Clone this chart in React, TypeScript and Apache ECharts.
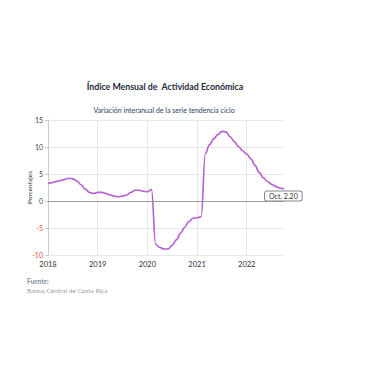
import React, { useEffect, useRef } from "react";
import * as echarts from "echarts";

const years = [2018, 2019, 2020, 2021, 2022];
const values2018 = [3.2, 3.4, 3.6, 3.8, 4.0, 4.2, 4.1, 3.7, 3.0, 2.2, 1.6, 1.4];
const values2019 = [1.6, 1.6, 1.4, 1.1, 0.9, 0.8, 0.9, 1.1, 1.6, 2.0, 2.0, 1.8];
const values2020 = [1.7, 2.1, -8.0, -8.6, -8.9, -8.9, -8.2, -7.2, -6.0, -4.9, -3.8, -3.2];
const values2021 = [-3.1, -2.9, 8.8, 10.4, 11.5, 12.3, 12.9, 12.8, 11.9, 11.0, 10.1, 9.3];
const values2022 = [8.7, 7.8, 6.6, 5.3, 4.3, 3.6, 3.1, 2.7, 2.4, 2.2];
const yTicks = [-10, -5, 0, 5, 10, 15];
const lastLabel = "Oct. 2.20";

const FONT = "Lato, 'Open Sans', sans-serif";

export default function App() {
  const ref = useRef<HTMLDivElement>(null);
  useEffect(() => {
    if (!ref.current) return;
    const chart = echarts.init(ref.current, null, { renderer: "svg" });
    const all = [values2018, values2019, values2020, values2021, values2022];
    const data: number[][] = [];
    all.forEach((arr, yi) => {
      arr.forEach((v, m) => data.push([years[yi] + m / 12, v]));
    });
    const xMax = data[data.length - 1][0];
    chart.setOption({
      animation: false,
      textStyle: { fontFamily: FONT },
      grid: { left: 48, right: 96, top: 120, bottom: 125 },
      graphic: [
        {
          type: "text",
          x: 165,
          y: 86,
          style: {
            text: "Índice Mensual de  Actividad Económica",
            fontSize: 8.8,
            fontWeight: "bold",
            fill: "#1f2a3a",
            fontFamily: FONT,
            align: "center",
            verticalAlign: "middle",
          },
        },
        {
          type: "text",
          x: 164,
          y: 110,
          style: {
            text: "Variación interanual de la serie tendencia ciclo",
            fontSize: 7,
            fill: "#2d3f66",
            fontFamily: FONT,
            align: "center",
            verticalAlign: "middle",
          },
        },
        {
          type: "text",
          x: 27,
          y: 281,
          style: {
            text: "Fuente:",
            fontSize: 6.5,
            fontWeight: "bold",
            fill: "#8090a6",
            fontFamily: FONT,
            verticalAlign: "middle",
          },
        },
        {
          type: "text",
          x: 27,
          y: 290,
          style: {
            text: "Banco Central de Costa Rica",
            fontSize: 6.5,
            fill: "#9aa0aa",
            fontFamily: FONT,
            verticalAlign: "middle",
          },
        },
      ],
      xAxis: {
        type: "value",
        min: 2018,
        max: xMax,
        interval: 1,
        axisLine: { show: true, lineStyle: { color: "#d8d8d8" } },
        axisTick: { show: false },
        splitLine: { show: true, showMaxLine: false, lineStyle: { color: "#e8e8e8" } },
        axisLabel: {
          fontSize: 7.5,
          color: "#333",
          margin: 5,
          showMaxLabel: false,
          formatter: (v: number) => String(Math.round(v)),
        },
      },
      yAxis: {
        type: "value",
        min: yTicks[0],
        max: yTicks[yTicks.length - 1],
        interval: 5,
        name: "Porcentajes",
        nameLocation: "middle",
        nameGap: 15,
        nameMoveOverlap: false,
        nameTextStyle: { fontSize: 6.5, color: "#333" },
        axisLine: { show: true, lineStyle: { color: "#cccccc" } },
        axisTick: { show: true, length: 3, lineStyle: { color: "#cccccc" } },
        splitLine: { show: true, lineStyle: { color: "#e8e8e8" } },
        axisLabel: {
          fontSize: 7,
          margin: 5,
          color: (v: any) => (Number(v) < 0 ? "#e8474a" : "#444"),
        },
      },
      series: [
        {
          type: "line",
          data,
          showSymbol: false,
          smooth: 0.4,
          smoothMonotone: "x",
          lineStyle: { color: "#b35fd0", width: 1.6 },
          itemStyle: { color: "#b35fd0" },
          endLabel: {
            show: true,
            formatter: lastLabel,
            offset: [-19, 7],
            distance: 0,
            fontSize: 7,
            color: "#333",
            backgroundColor: "#fff",
            borderColor: "#888",
            borderWidth: 1,
            borderRadius: 2,
            padding: [1, 4],
          },
          markLine: {
            silent: true,
            symbol: "none",
            label: { show: false },
            lineStyle: { color: "#999", width: 1, type: "solid" },
            data: [{ yAxis: 0 }],
          },
        },
      ],
    });
    return () => chart.dispose();
  }, []);
  return (
    <div
      ref={ref}
      style={{ position: "fixed", left: 0, top: 0, width: 380, height: 380, background: "#fff" }}
    />
  );
}
